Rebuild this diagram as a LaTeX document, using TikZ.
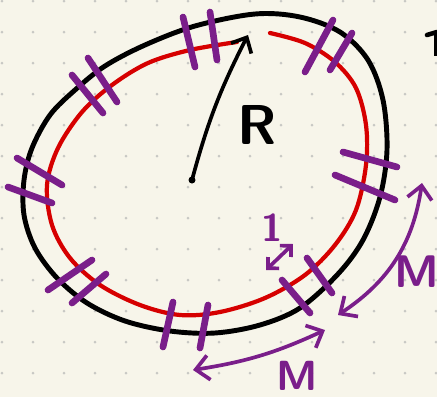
\documentclass[tikz,border=0pt]{standalone}
\usepackage{fontspec}
\usetikzlibrary{arrows.meta}
\definecolor{paper}{RGB}{247,245,234}
\definecolor{dotgray}{RGB}{200,200,196}
\definecolor{ringred}{RGB}{214,0,0}
\definecolor{markpurple}{RGB}{122,30,138}
\begin{document}
\begin{tikzpicture}[
    x=0.02cm, y=-0.02cm,
    notch/.style={draw=markpurple, line width=3.8pt, line cap=round},
    arrow/.style={<->, >={Straight Barb[length=7.5pt, width=14pt]}, line width=2.1pt, line cap=round, line join=round},
    hand/.style={font=\sffamily\bfseries\fontsize{#1}{#1}\selectfont, inner sep=0pt}
]
    \useasboundingbox (0,0) rectangle (437,397);
    \clip (0,0) rectangle (437,397);

    % Papier pointillé
    \fill[paper] (0,0) rectangle (437,397);
    \foreach \i in {0,...,14} {
        \foreach \j in {0,...,12} {
            \fill[dotgray] (2+31*\i, 1+31*\j) circle (1.5);
        }
    }

    % Anneau extérieur
    \draw[black, line width=2.8pt] plot[smooth cycle, tension=0.55] coordinates {
        (255,14) (300,17) (340,32) (368,60) (383,100) (387,150) (380,197)
        (363,240) (338,274) (300,308) (260,325) (215,333) (170,331)
        (125,321) (87,303) (57,278) (35,248) (24,215) (24,180) (32,148)
        (50,115) (75,90) (105,66) (145,45) (195,26)};

    % Anneau intérieur
    \draw[ringred, line width=2.4pt, line cap=round] plot[smooth, tension=0.55] coordinates {
        (270,33) (305,43) (335,62) (356,88) (366,125) (366,165) (356,210)
        (335,245) (305,275) (265,298) (220,312) (180,315) (140,305) (100,285)
        (70,258) (52,225) (47,185) (58,148) (82,112) (112,85) (148,63)
        (190,50) (237,42)};

    % Coupures
    \foreach \xa/\ya/\xb/\yb in {183/17/195/67, 210/12/217/60,
                                 333/20/305/72, 352/33/330/70,
                                 88/58/117/102, 72/75/103/113,
                                 17/158/62/185, 8/187/52/203,
                                 343/152/397/167, 335/175/395/200,
                                 92/260/48/290, 106/274/72/303,
                                 173/302/163/347, 208/305/200/348,
                                 307/258/332/293, 282/280/310/313} {
        \draw[notch] (\xa,\ya) -- (\xb,\yb);
    }

    % Rayon
    \coordinate (centre) at (192,180);
    \coordinate (rtip) at (248,35);
    \fill[black] (centre) circle (3.5);
    \draw[->, >={Straight Barb[length=7pt, width=13pt]}, line width=2.1pt, line cap=round, line join=round] (centre) to[bend left=6] (rtip);
    \node[hand=32] (rlabel) at (257,125) {R};

    % Longueurs
    \coordinate (mra) at (422,183);
    \coordinate (mrb) at (338,315);
    \draw[arrow, markpurple] (mra) to[bend left=24] (mrb);
    \node[hand=26, text=markpurple] (mright) at (417,272) {M};

    \coordinate (mba) at (193,370);
    \coordinate (mbb) at (325,330);
    \draw[arrow, markpurple] (mba) to[bend right=8] (mbb);
    \node[hand=24, text=markpurple] (mbottom) at (297,376) {M};

    \coordinate (ua) at (266,270);
    \coordinate (ub) at (293,244);
    \draw[arrow, markpurple, >={Straight Barb[length=4.5pt, width=9pt]}] (ua) -- (ub);
    \node[hand=22, text=markpurple] (one) at (272,228) {1};

    % Trait coupé au bord
    \draw[line width=2.6pt, line cap=round] (427,35) -- (437,32);
    \draw[line width=2.6pt] (436,33) -- (436,56);
\end{tikzpicture}
\end{document}
